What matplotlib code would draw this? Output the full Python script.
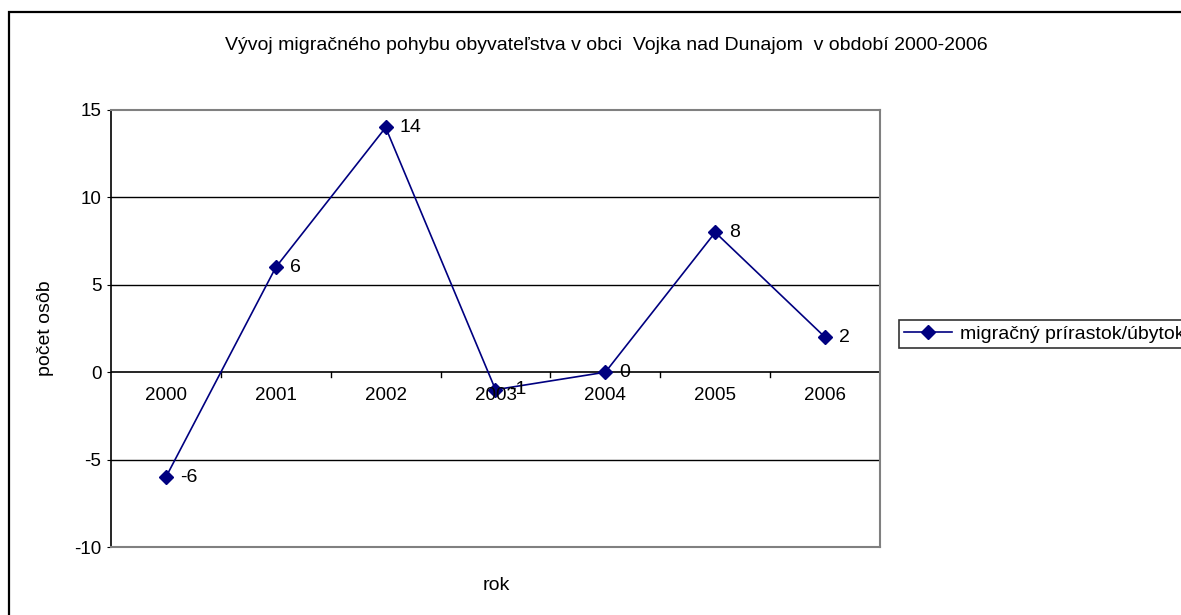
import matplotlib.pyplot as plt
import matplotlib.patches as mpatches
from matplotlib.lines import Line2D

# data
years = ['2000', '2001', '2002', '2003', '2004', '2005', '2006']
migration = [-6, 6, 14, -1, 0, 8, 2]
series_name = 'migračný prírastok/úbytok'

W, H = 1181, 615
fig = plt.figure(figsize=(W / 100, H / 100), dpi=100)
plt.rcParams['font.family'] = ['Liberation Sans', 'DejaVu Sans']
plt.rcParams['axes.unicode_minus'] = False

# outer chart border (right and bottom edges fall outside the picture)
fig.add_artist(mpatches.Rectangle((8.5 / W, -0.1), 1.2, 1.1 - 12 / H,
                                  transform=fig.transFigure, fill=False,
                                  edgecolor='black', lw=1.6, clip_on=False))

left, right, top, bottom = 111, 880, 110, 547
ax = fig.add_axes([left / W, 1 - bottom / H, (right - left) / W, (bottom - top) / H])

x = list(range(len(years)))
navy = '#000080'
ax.plot(x, migration, color=navy, lw=1.2, marker='D', markersize=7,
        markerfacecolor=navy, markeredgecolor=navy, zorder=3)
for xi, v in zip(x, migration):
    ax.annotate(str(v), (xi, v), xytext=(10, 0), textcoords='offset points',
                ha='left', va='center', fontsize=14)

ax.set_xlim(-0.5, len(years) - 0.5)
ax.set_ylim(-10, 15)
ax.set_yticks([-10, -5, 0, 5, 10, 15])
for yv in [-5, 5, 10]:
    ax.axhline(yv, color='black', lw=1.0, zorder=1)
ax.axhline(0, color='black', lw=1.2, zorder=2)

# category labels sit under the zero line
ax.set_xticks([])
for xi, yr in zip(x, years):
    ax.text(xi, -0.85, yr, ha='center', va='top', fontsize=13.5)
for xi in range(len(years) - 1):
    ax.plot([xi + 0.5, xi + 0.5], [0, -0.25], color='black', lw=1.0)

ax.tick_params(axis='y', direction='out', length=3, labelsize=13.5, pad=4)
for s in ['top', 'right', 'bottom']:
    ax.spines[s].set_color('#808080')
    ax.spines[s].set_linewidth(1.5)
ax.spines['left'].set_color('black')
ax.spines['left'].set_linewidth(1.2)

fig.text(606 / W, 1 - 45 / H, 'Vývoj migračného pohybu obyvateľstva v obci  Vojka nad Dunajom  v období 2000-2006',
         ha='center', va='center', fontsize=14)
fig.text(45 / W, 1 - 328 / H, 'počet osôb', rotation=90, ha='center', va='center', fontsize=14)
fig.text(496 / W, 1 - 585 / H, 'rok', ha='center', va='center', fontsize=14)

handle = Line2D([], [], color=navy, lw=1.2, marker='D', markersize=7,
                markerfacecolor=navy, markeredgecolor=navy)
leg = fig.legend([handle], [series_name], loc='center left',
                 bbox_to_anchor=(899 / W, 1 - 334 / H), fontsize=14,
                 frameon=True, fancybox=False, edgecolor='black',
                 borderpad=0.25, handlelength=2.5, handletextpad=0.4,
                 borderaxespad=0)
leg.get_frame().set_linewidth(1.2)

fig.savefig('out.png', dpi=100)
